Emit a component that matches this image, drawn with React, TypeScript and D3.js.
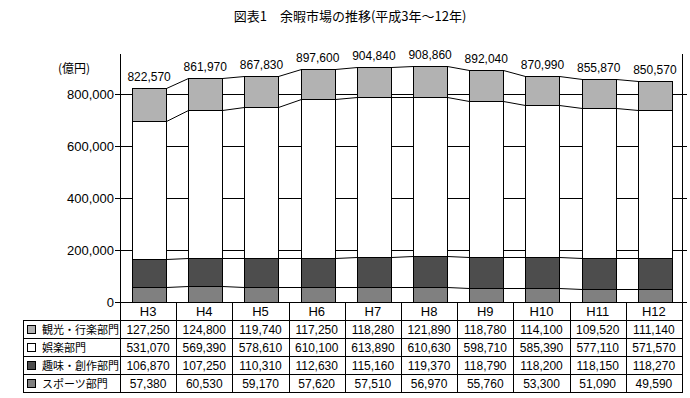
import React from 'react';
import * as d3 from 'd3';

// Categories (fiscal years)
const years = ['H3', 'H4', 'H5', 'H6', 'H7', 'H8', 'H9', 'H10', 'H11', 'H12'];

// Series values (億円), stacked bottom -> top
const sports = [57380, 60530, 59170, 57620, 57510, 56970, 55760, 53300, 51090, 49590];
const hobby = [106870, 107250, 110310, 112630, 115160, 119370, 118790, 118200, 118150, 118270];
const entertainment = [531070, 569390, 578610, 610100, 613890, 610630, 598710, 585390, 577110, 571570];
const tourism = [127250, 124800, 119740, 117250, 118280, 121890, 118780, 114100, 109520, 111140];

// Totals shown above bars
const totals = [822570, 861970, 867830, 897600, 904840, 908860, 892040, 870990, 855870, 850570];

const yTicks = [0, 200000, 400000, 600000, 800000];

const seriesNames = ['観光・行楽部門', '娯楽部門', '趣味・創作部門', 'スポーツ部門'];
const seriesColors = ['#b2b2b2', '#ffffff', '#4d4d4d', '#808080'];

const W = 690;
const H = 398;
const left = 120;
const right = 682;
const zeroY = 302;
const frameTop = 54;
const rowH = 18;

const numFont = '"Liberation Sans", Arial, sans-serif';
const jpFont = '"Noto Sans CJK JP", sans-serif';

export default function App() {
  const x = d3.scaleBand<string>().domain(years).range([left, right]);
  const col = x.bandwidth();
  const barOff = col * 0.215;
  const barW = col * 0.605;

  const y = d3.scaleLinear().domain([0, 1000000]).range([zeroY, zeroY - 260]);

  // stack: order sports, hobby, entertainment, tourism (bottom -> top)
  const stackData = years.map((yr, i) => ({
    yr,
    sports: sports[i],
    hobby: hobby[i],
    entertainment: entertainment[i],
    tourism: tourism[i],
  }));
  const keys = ['sports', 'hobby', 'entertainment', 'tourism'];
  const keyColors: Record<string, string> = {
    sports: seriesColors[3],
    hobby: seriesColors[2],
    entertainment: seriesColors[1],
    tourism: seriesColors[0],
  };
  const stacked = d3.stack<any>().keys(keys)(stackData);

  const fmt = d3.format(',');
  const tableRows = [tourism, entertainment, hobby, sports];
  const tableTop = zeroY + rowH;

  return (
    <svg width={W} height={H} style={{ position: 'absolute', left: 0, top: 0, background: '#fff' }}>
      <rect x={0} y={0} width={W} height={H} fill="#fff" />
      <text x={350} y={21} textAnchor="middle" fontFamily={jpFont} fontSize={13} fill="#000">
        図表1　余暇市場の推移(平成3年～12年)
      </text>
      <text x={74} y={73} textAnchor="middle" fontFamily={jpFont} fontSize={12} fill="#000">
        (億円)
      </text>

      {/* gridlines and ticks */}
      {yTicks.map((t) => (
        <g key={t}>
          <line x1={left - 5} x2={right + 5} y1={Math.round(y(t)) + 0.5} y2={Math.round(y(t)) + 0.5} stroke="#000" />
          <text x={114} y={y(t) + 5} textAnchor="end" fontFamily={numFont} fontSize={13} fill="#000">
            {fmt(t)}
          </text>
        </g>
      ))}
      <line x1={left + 0.5} x2={left + 0.5} y1={frameTop} y2={zeroY} stroke="#000" />
      <line x1={right + 0.5} x2={right + 0.5} y1={frameTop} y2={zeroY} stroke="#000" />

      {/* bars */}
      {stacked.map((s) => (
        <g key={s.key}>
          {s.map((d, i) => (
            <rect
              key={i}
              x={Math.round((x(years[i]) as number) + barOff) + 0.5}
              y={Math.round(y(d[1])) + 0.5}
              width={Math.round(barW)}
              height={Math.round(y(d[0])) - Math.round(y(d[1]))}
              fill={keyColors[s.key]}
              stroke="#000"
            />
          ))}
        </g>
      ))}

      {/* series connecting lines */}
      {stacked.map((s) => (
        <g key={'c' + s.key}>
          {s.slice(0, -1).map((d, i) => {
            const x1 = Math.round((x(years[i]) as number) + barOff) + Math.round(barW) + 0.5;
            const x2 = Math.round((x(years[i + 1]) as number) + barOff) + 0.5;
            return (
              <line
                key={i}
                x1={x1}
                x2={x2}
                y1={Math.round(y(d[1])) + 0.5}
                y2={Math.round(y(s[i + 1][1])) + 0.5}
                stroke="#000"
              />
            );
          })}
        </g>
      ))}

      {/* totals */}
      {totals.map((t, i) => (
        <text
          key={i}
          x={(x(years[i]) as number) + barOff + barW / 2}
          y={y(t) - 7}
          textAnchor="middle"
          fontFamily={numFont}
          fontSize={12}
          fill="#000"
        >
          {fmt(t)}
        </text>
      ))}

      {/* x axis line */}
      <line x1={left} x2={right + 1} y1={zeroY + 0.5} y2={zeroY + 0.5} stroke="#000" />

      {/* data table */}
      <line x1={23} x2={right + 1} y1={tableTop + 0.5} y2={tableTop + 0.5} stroke="#000" />
      {tableRows.map((_, r) => (
        <line
          key={'h' + r}
          x1={23}
          x2={right + 1}
          y1={tableTop + (r + 1) * rowH + 0.5}
          y2={tableTop + (r + 1) * rowH + 0.5}
          stroke="#000"
        />
      ))}
      <line x1={23.5} x2={23.5} y1={tableTop} y2={tableTop + 4 * rowH + 1} stroke="#000" />
      <line x1={left + 0.5} x2={left + 0.5} y1={zeroY} y2={tableTop + 4 * rowH + 1} stroke="#000" />
      {years.map((yr) => (
        <line
          key={'v' + yr}
          x1={Math.round((x(yr) as number) + col) + 0.5}
          x2={Math.round((x(yr) as number) + col) + 0.5}
          y1={zeroY}
          y2={tableTop + 4 * rowH + 1}
          stroke="#000"
        />
      ))}
      {years.map((yr) => (
        <text
          key={'t' + yr}
          x={(x(yr) as number) + col / 2}
          y={zeroY + 14}
          textAnchor="middle"
          fontFamily={numFont}
          fontSize={13}
          fill="#000"
        >
          {yr}
        </text>
      ))}
      {tableRows.map((row, r) => (
        <g key={'r' + r}>
          <rect x={27.5} y={tableTop + r * rowH + 5.5} width={8} height={8} fill={seriesColors[r]} stroke="#000" />
          <text x={42} y={tableTop + r * rowH + 13.5} fontFamily={jpFont} fontSize={11} fill="#000">
            {seriesNames[r]}
          </text>
          {row.map((v, i) => (
            <text
              key={i}
              x={(x(years[i]) as number) + col / 2}
              y={tableTop + r * rowH + 14}
              textAnchor="middle"
              fontFamily={numFont}
              fontSize={12}
              fill="#000"
            >
              {fmt(v)}
            </text>
          ))}
        </g>
      ))}
    </svg>
  );
}
